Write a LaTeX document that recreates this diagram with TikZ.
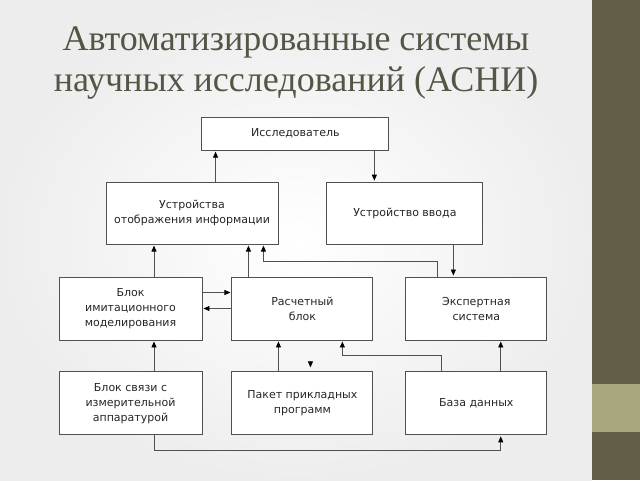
\documentclass[tikz,border=0pt]{standalone}
\usepackage{fontspec}
\usepackage{tikz}
\usetikzlibrary{arrows.meta,positioning}
\newfontfamily\boxfont{DejaVu Sans}
\newfontfamily\titlefont{Liberation Serif}
\definecolor{titlegray}{RGB}{85,85,70}
\definecolor{barolive}{RGB}{99,94,72}
\definecolor{barlight}{RGB}{168,167,126}
\definecolor{linegray}{RGB}{80,80,80}

\begin{document}
\begin{tikzpicture}[x=1pt,y=-1pt,>={Triangle[length=6pt,width=5pt,color=black]},shorten >=1pt,
                    node distance=29pt]
  \tikzstyle{block}=[draw=linegray,line width=0.9pt,fill=white,align=center,
                     font=\boxfont\fontsize{11}{15}\selectfont,text=black!85,
                     minimum height=63pt,inner sep=2pt]
  \tikzstyle{link}=[->,draw=linegray,line width=0.8pt]

  \useasboundingbox (0,0) rectangle (640,480);
  \shade[inner color=white,outer color=black!7] (0,0) rectangle (592,480);
  \fill[barolive] (592,0) rectangle (640,480);
  \fill[barlight] (592,384) rectangle (640,432);

  \node[font=\titlefont\fontsize{36}{41}\selectfont,text=titlegray,align=center]
        (T) at (296,62.5) {Автоматизированные системы\\научных исследований (АСНИ)};

  \node[block,minimum width=143pt] (S) at (130.5,308.5) {Блок\\имитационного\\моделирования};
  \node[block,minimum width=141pt] (C) [right=29pt of S]   {Расчетный\\блок};
  \node[block,minimum width=141pt] (E) [right=32pt of C]   {Экспертная\\система};
  \node[block,minimum width=143pt] (L) [below=31pt of S]   {Блок связи с\\измерительной\\аппаратурой};
  \node[block,minimum width=141pt] (P) [below=31pt of C]   {Пакет прикладных\\программ};
  \node[block,minimum width=141pt] (D) [below=31pt of E]   {База данных};
  \node[block,minimum width=172pt,minimum height=62pt] (U)
        [above=32pt of S.north west,anchor=south west,xshift=47pt] {Устройства\\отображения информации};
  \node[block,minimum width=156pt,minimum height=62pt] (V) [right=48pt of U] {Устройство ввода};
  \node[block,minimum width=187pt,minimum height=33pt] (R)
        [above=31pt of U.north east,anchor=south west,xshift=-77pt] {Исследователь};
  \coordinate (Pin) at ([xshift=79pt,yshift=10pt]P.north west);

  \draw[link] ([xshift=110pt]U.north west) -- ([xshift=110pt]U.north west |- R.south);
  \draw[link] ([xshift=-15pt]R.south east) -- ([xshift=-15pt]R.south east |- V.north);
  \draw[link] ([xshift=23.5pt]S.north) -- ([xshift=23.5pt]S.north |- U.south);
  \draw[link] ([xshift=17pt]C.north west) -- ([xshift=17pt]C.north west |- U.south);
  \draw[link] ([xshift=32pt]E.north west) -- ++(0,-15) -| ([xshift=-15pt]U.south east);
  \draw[link] ([xshift=-30pt]V.south east) -- ([xshift=-30pt]V.south east |- E.north);
  \draw[link] ([yshift=16pt]S.east) -- ([yshift=16pt]S.east -| C.west);
  \draw[link] (C.west) -- (S.east);
  \draw[link] ([xshift=23.5pt]L.north) -- ([xshift=23.5pt]L.north |- S.south);
  \draw[link] ([xshift=47pt]P.north west) -- ([xshift=47pt]P.north west |- C.south);
  \draw[link,shorten >=4pt] (Pin) -- (Pin |- P.north);
  \draw[link] ([xshift=36pt]D.north west) -- ++(0,-16) -| ([xshift=-31pt]C.south east);
  \draw[link] ([xshift=-46.5pt]D.north east) -- ([xshift=-46.5pt]D.north east |- E.south);
  \draw[link] ([xshift=23.5pt]L.south) -- ++(0,15) -| ([xshift=-46.5pt]D.south east);
\end{tikzpicture}
\end{document}
